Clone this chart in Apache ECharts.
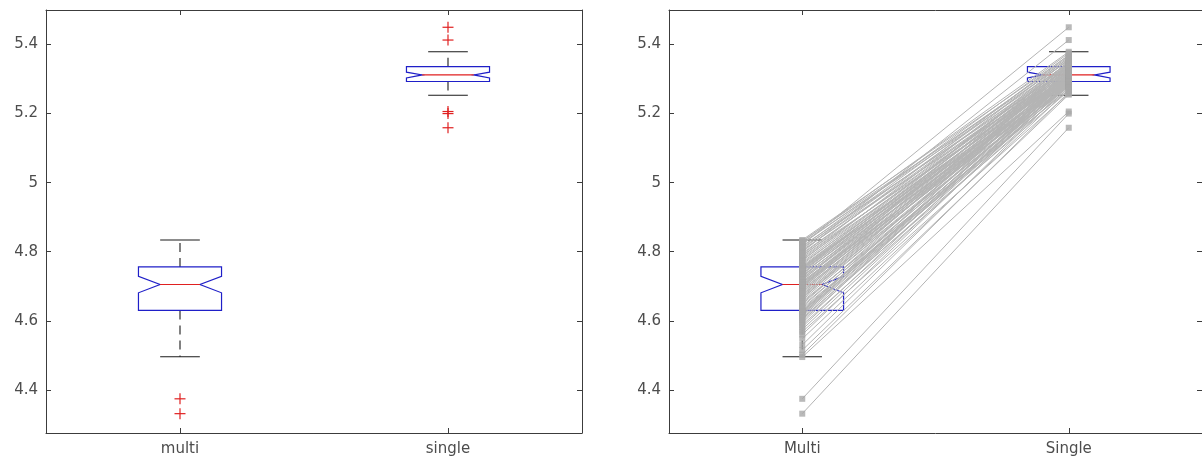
<!DOCTYPE html>
<html>
<head>
<meta charset="utf-8">
<script src="https://cdn.jsdelivr.net/npm/echarts@6/dist/echarts.min.js"></script>
<style>
html, body { margin: 0; padding: 0; background: #fff; }
#main { width: 1202px; height: 463px; }
</style>
</head>
<body>
<div id="main"></div>
<script>
// categories and tick labels
var leftCats = ['multi', 'single'];
var rightCats = ['Multi', 'Single'];
var yTicks = [4.4, 4.6, 4.8, 5, 5.2, 5.4];

// box stats: [low whisker, q1, notch low, median, notch high, q3, high whisker]
var multiBox = [4.496, 4.630, 4.681, 4.705, 4.729, 4.756, 4.834];
var singleBox = [5.253, 5.293, 5.303, 5.312, 5.320, 5.336, 5.379];
var multiOut = [4.374, 4.331];
var singleOut = [5.450, 5.413, 5.206, 5.200, 5.159];

// paired values (one subject per index)
var multiVals = [
    4.331, 4.374, 4.495, 4.502, 4.515, 4.530, 4.548, 4.560, 4.568, 4.575,
    4.582, 4.588, 4.594, 4.600, 4.604, 4.608, 4.612, 4.615, 4.618, 4.620,
    4.622, 4.624, 4.626, 4.628, 4.629,
    4.632, 4.636, 4.640, 4.644, 4.648, 4.652, 4.656, 4.660, 4.664, 4.667,
    4.670, 4.673, 4.676, 4.679, 4.682, 4.685, 4.688, 4.691, 4.694, 4.696,
    4.698, 4.700, 4.702, 4.703, 4.704,
    4.706, 4.708, 4.710, 4.712, 4.714, 4.717, 4.719, 4.722, 4.724, 4.727,
    4.729, 4.731, 4.734, 4.736, 4.738, 4.741, 4.743, 4.745, 4.747, 4.749,
    4.751, 4.752, 4.754, 4.755, 4.756,
    4.759, 4.763, 4.767, 4.770, 4.774, 4.777, 4.780, 4.784, 4.787, 4.790,
    4.793, 4.796, 4.799, 4.802, 4.805, 4.808, 4.811, 4.814, 4.817, 4.820,
    4.823, 4.826, 4.829, 4.831, 4.834
];
var singleVals = [
    5.159, 5.200, 5.206, 5.262, 5.255, 5.283, 5.270, 5.296, 5.258, 5.288,
    5.305, 5.276, 5.318, 5.284, 5.300, 5.266, 5.292, 5.327, 5.281, 5.308,
    5.290, 5.345, 5.273, 5.302, 5.286,
    5.298, 5.279, 5.311, 5.287, 5.322, 5.295, 5.268, 5.306, 5.333, 5.289,
    5.301, 5.316, 5.282, 5.309, 5.340, 5.297, 5.313, 5.291, 5.325, 5.304,
    5.352, 5.294, 5.310, 5.278, 5.320,
    5.303, 5.330, 5.296, 5.318, 5.285, 5.342, 5.307, 5.324, 5.299, 5.336,
    5.312, 5.290, 5.347, 5.315, 5.305, 5.328, 5.358, 5.300, 5.321, 5.338,
    5.309, 5.331, 5.293, 5.350, 5.314,
    5.326, 5.344, 5.308, 5.334, 5.362, 5.319, 5.341, 5.329, 5.370, 5.311,
    5.348, 5.335, 5.413, 5.356, 5.322, 5.365, 5.340, 5.375, 5.332, 5.450,
    5.360, 5.346, 5.379, 5.353, 5.368
];

var axisColor = '#3c3c3c';
var labelColor = '#4d4d4d';
var boxBlue = '#1f1fc8';
var medRed = '#e02020';

// notched box drawn from the stats through the axis scales
function renderBox(params, api) {
    var x = api.value(0);
    var y = [];
    for (var k = 1; k <= 7; k++) {
        y.push(api.coord([x, api.value(k)])[1]);
    }
    var cx = api.coord([x, api.value(4)])[0];
    var band = api.size([1, 0])[0];
    var hw = band * 0.155;
    var nw = hw * (x == 0 ? 0.48 : 0.62);
    var cw = band * 0.074;
    var black = {stroke: '#1a1a1a', lineWidth: 1.1};
    var dash = {stroke: '#1a1a1a', lineWidth: 1.1, lineDash: [9, 6]};
    return {
        type: 'group',
        children: [
            {type: 'line', shape: {x1: cx, y1: y[5], x2: cx, y2: y[6]}, style: dash},
            {type: 'line', shape: {x1: cx, y1: y[1], x2: cx, y2: y[0]}, style: dash},
            {type: 'line', shape: {x1: cx - cw, y1: y[6], x2: cx + cw, y2: y[6]}, style: black},
            {type: 'line', shape: {x1: cx - cw, y1: y[0], x2: cx + cw, y2: y[0]}, style: black},
            {type: 'polygon', shape: {points: [
                [cx - hw, y[5]], [cx + hw, y[5]], [cx + hw, y[4]], [cx + nw, y[3]],
                [cx + hw, y[2]], [cx + hw, y[1]], [cx - hw, y[1]], [cx - hw, y[2]],
                [cx - nw, y[3]], [cx - hw, y[4]]
            ]}, style: {fill: 'none', stroke: boxBlue, lineWidth: 1.2}},
            {type: 'line', shape: {x1: cx - nw, y1: y[3], x2: cx + nw, y2: y[3]}, style: {stroke: medRed, lineWidth: 1.1}}
        ]
    };
}

// red "+" for outliers
function renderPlus(params, api) {
    var p = api.coord([api.value(0), api.value(1)]);
    var s = 5.5;
    var st = {stroke: medRed, lineWidth: 1.2};
    return {
        type: 'group',
        children: [
            {type: 'line', shape: {x1: p[0] - s, y1: p[1], x2: p[0] + s, y2: p[1]}, style: st},
            {type: 'line', shape: {x1: p[0], y1: p[1] - s, x2: p[0], y2: p[1] + s}, style: st}
        ]
    };
}

// grey line joining one subject's two values
function renderPair(params, api) {
    var a = api.coord([0, api.value(1)]);
    var b = api.coord([1, api.value(2)]);
    return {
        type: 'line',
        shape: {x1: a[0], y1: a[1], x2: b[0], y2: b[1]},
        style: {stroke: '#b4b4b4', lineWidth: 1}
    };
}

function boxData() {
    return [[0].concat(multiBox), [1].concat(singleBox)];
}

function outData() {
    var d = [];
    multiOut.forEach(function (v) { d.push([0, v]); });
    singleOut.forEach(function (v) { d.push([1, v]); });
    return d;
}

function xAx(idx, cats, pos) {
    return {
        type: 'category', gridIndex: idx, data: cats, position: pos,
        boundaryGap: true,
        axisLine: {show: true, lineStyle: {color: axisColor, width: 1}},
        axisTick: {show: true, inside: true, alignWithLabel: true, length: 5, lineStyle: {color: axisColor}},
        axisLabel: {show: pos == 'bottom', color: labelColor, fontSize: 15, fontFamily: 'DejaVu Sans', margin: 9},
        splitLine: {show: false}
    };
}

function yAx(idx, pos) {
    return {
        type: 'value', gridIndex: idx, position: pos, min: 4.275, max: 5.5,
        axisLine: {show: true, lineStyle: {color: axisColor, width: 1}},
        axisTick: {show: true, inside: true, length: 5, customValues: yTicks, lineStyle: {color: axisColor}},
        axisLabel: {show: pos == 'left', color: labelColor, fontSize: 15, fontFamily: 'DejaVu Sans', margin: 8, customValues: yTicks},
        splitLine: {show: false}
    };
}

var pairData = multiVals.map(function (m, i) { return [0, m, singleVals[i]]; });

var option = {
    animation: false,
    backgroundColor: '#fff',
    grid: [
        {left: 46, top: 10, width: 536, height: 423},
        {left: 669, top: 10, width: 534, height: 423}
    ],
    xAxis: [
        xAx(0, leftCats, 'bottom'), xAx(0, leftCats, 'top'),
        xAx(1, rightCats, 'bottom'), xAx(1, rightCats, 'top')
    ],
    yAxis: [
        yAx(0, 'left'), yAx(0, 'right'),
        yAx(1, 'left'), yAx(1, 'right')
    ],
    series: [
        {
            type: 'custom', xAxisIndex: 0, yAxisIndex: 0, z: 2,
            renderItem: renderBox, data: boxData(),
            encode: {x: 0, y: [1, 2, 3, 4, 5, 6, 7]}
        },
        {
            type: 'custom', xAxisIndex: 0, yAxisIndex: 0, z: 3,
            renderItem: renderPlus, data: outData(),
            encode: {x: 0, y: 1}
        },
        {
            type: 'custom', xAxisIndex: 2, yAxisIndex: 2, z: 2,
            renderItem: renderBox, data: boxData(),
            encode: {x: 0, y: [1, 2, 3, 4, 5, 6, 7]}
        },
        {
            type: 'custom', xAxisIndex: 2, yAxisIndex: 2, z: 3,
            renderItem: renderPair, data: pairData,
            encode: {x: 0, y: [1, 2]}
        },
        {
            type: 'scatter', xAxisIndex: 2, yAxisIndex: 2, z: 4,
            symbol: 'rect', symbolSize: 6,
            itemStyle: {color: '#a8a8a8'},
            data: multiVals.map(function (v) { return [0, v]; })
        },
        {
            type: 'scatter', xAxisIndex: 2, yAxisIndex: 2, z: 4,
            symbol: 'rect', symbolSize: 6,
            itemStyle: {color: '#a8a8a8'},
            data: singleVals.map(function (v) { return [1, v]; })
        }
    ]
};

var myChart = echarts.init(document.getElementById('main'));
myChart.setOption(option);
</script>
</body>
</html>
